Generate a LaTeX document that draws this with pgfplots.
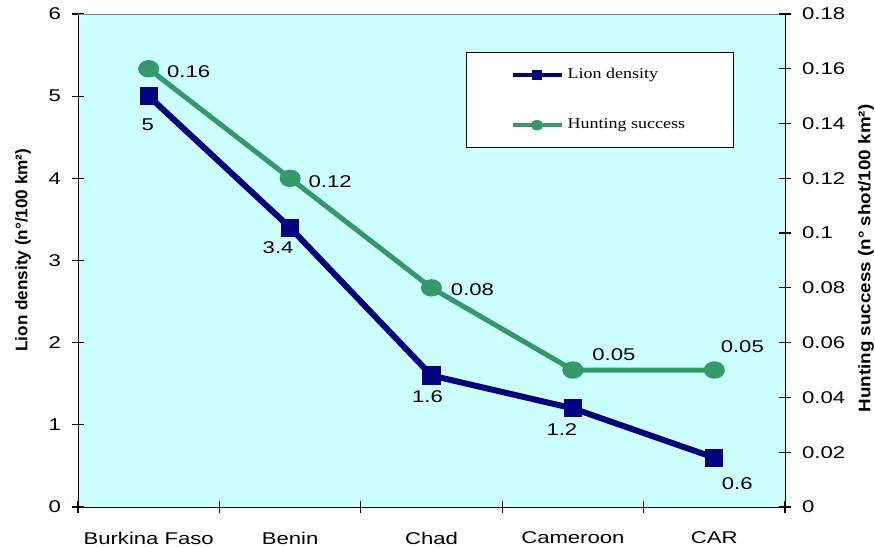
\documentclass[border=0pt]{standalone}
\usepackage{fontspec}
\setmainfont{Liberation Sans}[FakeStretch=1.3]
\newfontfamily\timesf{Liberation Serif}[FakeStretch=1.2]
\newfontfamily\labl{Liberation Sans}[FakeStretch=1.02]
\newfontfamily\labr{Liberation Sans}[FakeStretch=1.12]
\usepackage{pgfplots}
\usepackage{pgfplotstable}
\pgfplotsset{compat=1.18}
\definecolor{bgc}{HTML}{CCFFFF}
\definecolor{lionc}{HTML}{000080}
\definecolor{huntc}{HTML}{339966}

\pgfplotstableread{
x y label dx dy
0 5 5 -0.5 -14.5
1 3.4 3.4 -6 -10
2 1.6 1.6 -2 -10.5
3 1.2 1.2 -5.5 -10.5
4 0.6 0.6 11.5 -13
}\lion

\pgfplotstableread{
x y label dx dy
0 0.16 0.16 20 -1.5
1 0.12 0.12 20 -1.5
2 0.08 0.08 20.5 -1
3 0.05 0.05 20.5 7.5
4 0.05 0.05 14 11.5
}\hunt

\pgfplotsset{
  common/.style={
    width=353.5pt, height=246.5pt, scale only axis,
    xmin=-0.5, xmax=4.5,
    tick align=center, major tick length=6pt,
    tick style={black, line width=0.6pt},
    /pgf/number format/assume math mode=true,
    ticklabel style={font=\fontsize{8.5}{10}\selectfont},
    clip=false,
  },
  labelled/.style={
    nodes near coords,
    point meta=explicit symbolic,
    visualization depends on={\thisrow{dx} \as \dx},
    visualization depends on={\thisrow{dy} \as \dy},
    every node near coord/.append style={anchor=center, xshift=\dx, yshift=\dy, font=\fontsize{8.5}{10}\selectfont, text=black},
  },
  lionstyle/.style={lionc, line width=3pt, mark=square*, mark size=4.3pt, mark options={solid, line width=0.5pt}},
  huntstyle/.style={huntc, line width=2.5pt, mark=*, mark size=4.1pt, mark options={solid, line width=0.5pt, xscale=1.22}},
}

\begin{document}
\begin{tikzpicture}
\begin{axis}[common,
  axis background/.style={fill=bgc},
  axis x line*=bottom, axis y line*=left,
  ymin=0, ymax=6,
  ytick={0,1,2,3,4,5,6},
  yticklabels={0,1,2,3,4,5,6},
  yticklabel style={xshift=-2pt},
  xtick={-0.5,0.5,1.5,2.5,3.5,4.5},
  xticklabels={},
  extra x ticks={0,1,2,3,4},
  extra x tick labels={Burkina Faso,Benin,Chad,Cameroon,CAR},
  extra x tick style={major tick length=0pt, xticklabel style={yshift=-9pt}},
  ylabel={Lion density (n°/100 km²)},
  ylabel style={at={(rel axis cs:0,0.521)}, anchor=center, yshift=27.5pt, font=\labl\bfseries\fontsize{8.4}{10}\selectfont},
]
\addplot[lionstyle, labelled] table[x=x, y=y, meta=label] {\lion};
\draw[gray] (rel axis cs:0,1) -- (rel axis cs:1,1);
\coordinate (bl) at (rel axis cs:0,0);
\coordinate (tr) at (rel axis cs:1,1);
\end{axis}
\begin{axis}[common,
  axis x line=none, axis y line*=right,
  ymin=0, ymax=0.18,
  ytick={0,0.02,0.04,0.06,0.08,0.1,0.12,0.14,0.16,0.18},
  yticklabels={0,0.02,0.04,0.06,0.08,0.1,0.12,0.14,0.16,0.18},
  yticklabel style={xshift=2pt},
  ylabel={Hunting success (n° shot/100 km²)},
  ylabel style={at={(rel axis cs:1,0.504)}, anchor=center, yshift=-40.5pt, font=\labr\bfseries\fontsize{8.4}{10}\selectfont},
  legend style={at={(rel axis cs:0.549,0.923)}, anchor=north west, draw=black, fill=white,
    font=\timesf\fontsize{7.5}{9}\selectfont, inner xsep=22pt, inner ysep=6pt,
    row sep=14.5pt, cells={anchor=west}},
  legend image code/.code={\draw[#1, line width=2pt, mark size=2.4pt, every mark/.append style={line width=0.4pt}, mark repeat=2, mark phase=2] plot coordinates {(0pt,0pt) (12.25pt,0pt) (24.5pt,0pt)};},
]
\addlegendimage{lionstyle}
\addlegendentry{Lion density}
\addplot[huntstyle, labelled] table[x=x, y=y, meta=label] {\hunt};
\addlegendentry{Hunting success}
\end{axis}
\pgfresetboundingbox
\path ([shift={(-39pt,-20pt)}]bl) rectangle ([shift={(45pt,7pt)}]tr);
\end{tikzpicture}
\end{document}
